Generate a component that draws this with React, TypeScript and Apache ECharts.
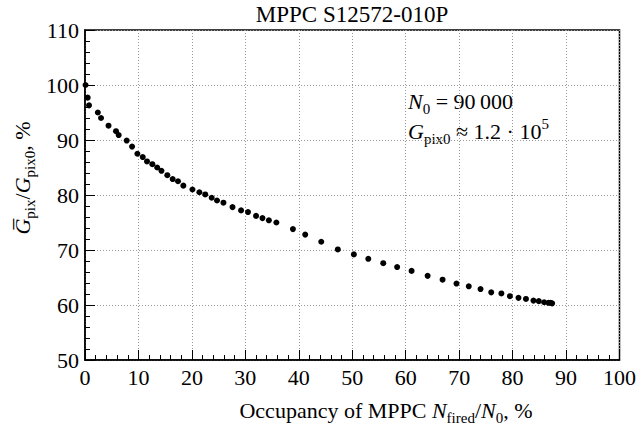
import React, { useEffect, useRef } from "react";
import * as echarts from "echarts";

const TITLE = "MPPC S12572-010P";

const occupancy = [
  0.1, 0.5, 0.75, 2.4, 3.0, 4.4, 5.8, 6.3, 7.8, 8.8, 9.8, 10.8, 11.6, 12.6, 13.5,
  14.3, 15.4, 16.4, 17.4, 18.4, 20.1, 21.4, 22.5, 23.7, 24.7, 25.9, 27.6, 29.2,
  30.5, 32.0, 33.2, 34.4, 35.8, 38.9, 41.2, 44.2, 47.3, 50.3, 53.0, 55.8, 58.4,
  61.1, 64.1, 66.9, 69.5, 71.8, 74.0, 76.0, 77.9, 79.5, 81.1, 82.5, 83.9, 84.9,
  85.9, 86.7, 87.1, 87.4,
];

const gainRatio = [
  100.0, 97.7, 96.3, 95.0, 94.0, 92.6, 91.6, 90.9, 89.9, 88.8, 87.5, 86.9, 86.1,
  85.6, 85.0, 84.4, 83.6, 82.9, 82.5, 81.7, 81.0, 80.5, 80.1, 79.5, 79.0, 78.6,
  77.8, 77.2, 76.9, 76.2, 75.8, 75.4, 75.0, 73.8, 72.8, 71.5, 70.1, 69.2, 68.4,
  67.6, 66.9, 66.2, 65.3, 64.6, 63.9, 63.4, 62.9, 62.3, 62.1, 61.6, 61.3, 61.1,
  60.8, 60.7, 60.5, 60.4, 60.4, 60.3,
];

const X_RANGE = [0, 100];
const Y_RANGE = [50, 110];

const FONT = "Liberation Serif, serif";

const rich = {
  r: { fontFamily: FONT, fontSize: 22, lineHeight: 30, fill: "#000", color: "#000" },
  i: { fontFamily: FONT, fontSize: 22, lineHeight: 30, fontStyle: "italic", fill: "#000", color: "#000" },
  s: { fontFamily: FONT, fontSize: 15, lineHeight: 14, verticalAlign: "bottom", fill: "#000", color: "#000" },
  sup: { fontFamily: FONT, fontSize: 15, lineHeight: 14, verticalAlign: "top", fill: "#000", color: "#000" },
};

export default function App() {
  const ref = useRef<HTMLDivElement>(null);

  useEffect(() => {
    if (!ref.current) return;
    const chart = echarts.init(ref.current, null, { renderer: "svg" });
    const data = occupancy.map((v, i) => [v, gainRatio[i]]);

    const axisCommon = {
      axisLine: { show: true, lineStyle: { color: "#000", width: 1.5 } },
      axisTick: { show: true, inside: true, length: 10, lineStyle: { color: "#000", width: 1 } },
      minorTick: { show: true, splitNumber: 5, length: 5, lineStyle: { color: "#000", width: 1 } },
      splitLine: { show: true, lineStyle: { color: "#999", width: 1, type: [1, 2] } },
      axisLabel: { fontFamily: FONT, fontSize: 22, color: "#000", margin: 6 },
    };

    chart.setOption({
      animation: false,
      grid: {
        left: 85,
        right: 19,
        top: 30,
        bottom: 70,
        show: true,
        borderColor: "#000",
        borderWidth: 1.5,
      },
      xAxis: {
        type: "value",
        min: X_RANGE[0],
        max: X_RANGE[1],
        interval: 10,
        ...axisCommon,
      },
      yAxis: {
        type: "value",
        min: Y_RANGE[0],
        max: Y_RANGE[1],
        interval: 10,
        ...axisCommon,
      },
      series: [
        {
          type: "scatter",
          data,
          symbol: "circle",
          symbolSize: 6,
          itemStyle: { color: "#000", opacity: 1 },
        },
      ],
      graphic: [
        {
          type: "text",
          x: 352,
          y: 14,
          style: {
            text: TITLE,
            fontFamily: FONT,
            fontSize: 23,
            fill: "#000",
            align: "center",
            verticalAlign: "middle",
          },
        },
        {
          type: "text",
          x: 22,
          y: 178,
          rotation: Math.PI / 2,
          style: {
            text: "{i|G\u0305}{s|pix}{r|/}{i|G}{s|pix0}{r|, %}",
            rich,
            fontFamily: FONT,
            align: "center",
            verticalAlign: "middle",
          },
        },
        {
          type: "text",
          x: 386,
          y: 410,
          style: {
            text: "{r|Occupancy of MPPC }{i|N}{s|fired}{r|/}{i|N}{s|0}{r|, %}",
            rich,
            fontFamily: FONT,
            align: "center",
            verticalAlign: "middle",
          },
        },
        {
          type: "text",
          x: 408,
          y: 101,
          style: {
            text: "{i|N}{s|0}{r| = 90\u2009000}",
            rich,
            fontFamily: FONT,
            align: "left",
            verticalAlign: "middle",
          },
        },
        {
          type: "text",
          x: 408,
          y: 131,
          style: {
            text: "{i|G}{s|pix0}{r| \u2248 1.2 \u00b7 10}{sup|5}",
            rich,
            fontFamily: FONT,
            align: "left",
            verticalAlign: "middle",
          },
        },
      ],
    });

    return () => chart.dispose();
  }, []);

  return (
    <div
      ref={ref}
      style={{ position: "absolute", left: 0, top: 0, width: 639, height: 430 }}
    />
  );
}
